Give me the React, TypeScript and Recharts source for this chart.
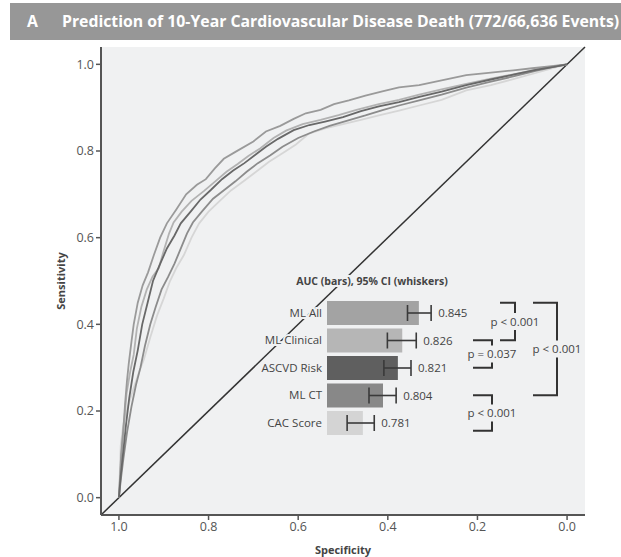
import {
  LineChart,
  Line,
  XAxis,
  YAxis,
  CartesianGrid,
  ReferenceLine,
  BarChart,
  Bar,
  Cell,
  ErrorBar,
  LabelList,
} from 'recharts';

// ROC curves, [specificity, sensitivity]
const ML_ALL_ROC = [
  [1, 0], [0.998, 0.04], [0.995, 0.1], [0.99, 0.16], [0.986, 0.22], [0.982, 0.27],
  [0.978, 0.31], [0.972, 0.36], [0.967, 0.4], [0.958, 0.45], [0.947, 0.49], [0.935, 0.52],
  [0.922, 0.56], [0.908, 0.6], [0.893, 0.633], [0.872, 0.665], [0.85, 0.7], [0.826, 0.722],
  [0.806, 0.735], [0.786, 0.76], [0.766, 0.782], [0.74, 0.798], [0.7, 0.822], [0.672, 0.845],
  [0.64, 0.858], [0.61, 0.874], [0.583, 0.887], [0.55, 0.895], [0.52, 0.908], [0.487, 0.917],
  [0.45, 0.928], [0.41, 0.938], [0.375, 0.947], [0.33, 0.952], [0.28, 0.963], [0.225, 0.975],
  [0.17, 0.981], [0.12, 0.986], [0.078, 0.991], [0.04, 0.995], [0, 1],
];
const ML_CLINICAL_ROC = [
  [1, 0], [0.997, 0.05], [0.993, 0.12], [0.988, 0.18], [0.983, 0.24], [0.975, 0.29],
  [0.967, 0.33], [0.96, 0.39], [0.95, 0.44], [0.938, 0.48], [0.925, 0.51], [0.911, 0.53],
  [0.9, 0.57], [0.888, 0.61], [0.878, 0.635], [0.86, 0.66], [0.838, 0.685], [0.81, 0.708],
  [0.785, 0.73], [0.76, 0.752], [0.735, 0.77], [0.712, 0.788], [0.685, 0.806], [0.655, 0.83],
  [0.627, 0.847], [0.59, 0.862], [0.55, 0.872], [0.51, 0.883], [0.47, 0.895], [0.42, 0.908],
  [0.375, 0.918], [0.33, 0.93], [0.28, 0.942], [0.225, 0.955], [0.17, 0.967], [0.12, 0.977],
  [0.07, 0.988], [0.03, 0.995], [0, 1],
];
const ASCVD_ROC = [
  [1, 0], [0.996, 0.05], [0.99, 0.11], [0.984, 0.17], [0.977, 0.23], [0.968, 0.29],
  [0.958, 0.34], [0.948, 0.4], [0.936, 0.45], [0.924, 0.5], [0.91, 0.535], [0.893, 0.575],
  [0.876, 0.605], [0.862, 0.633], [0.84, 0.66], [0.818, 0.688], [0.795, 0.71], [0.77, 0.735],
  [0.745, 0.755], [0.72, 0.772], [0.697, 0.79], [0.672, 0.81], [0.645, 0.828], [0.61, 0.848],
  [0.575, 0.86], [0.54, 0.868], [0.5, 0.878], [0.46, 0.892], [0.42, 0.903], [0.375, 0.913],
  [0.33, 0.925], [0.28, 0.937], [0.225, 0.952], [0.17, 0.965], [0.12, 0.976], [0.07, 0.987],
  [0.03, 0.994], [0, 1],
];
const ML_CT_ROC = [
  [1, 0], [0.996, 0.04], [0.99, 0.09], [0.982, 0.15], [0.972, 0.21], [0.962, 0.26],
  [0.952, 0.3], [0.942, 0.35], [0.93, 0.4], [0.918, 0.44], [0.905, 0.48], [0.89, 0.51],
  [0.876, 0.54], [0.86, 0.58], [0.848, 0.61], [0.835, 0.635], [0.815, 0.66], [0.79, 0.69],
  [0.765, 0.71], [0.74, 0.73], [0.715, 0.752], [0.69, 0.772], [0.662, 0.79], [0.635, 0.81],
  [0.6, 0.83], [0.565, 0.845], [0.53, 0.858], [0.49, 0.87], [0.45, 0.882], [0.41, 0.895],
  [0.375, 0.905], [0.33, 0.917], [0.28, 0.93], [0.225, 0.946], [0.17, 0.96], [0.12, 0.972],
  [0.07, 0.985], [0.03, 0.994], [0, 1],
];
const CAC_ROC = [
  [1, 0], [0.998, 0.06], [0.996, 0.12], [0.99, 0.17], [0.98, 0.21], [0.968, 0.25],
  [0.955, 0.29], [0.944, 0.32], [0.93, 0.37], [0.915, 0.42], [0.9, 0.46], [0.886, 0.5],
  [0.872, 0.53], [0.855, 0.56], [0.838, 0.6], [0.821, 0.633], [0.8, 0.66], [0.775, 0.685],
  [0.75, 0.709], [0.722, 0.73], [0.694, 0.752], [0.665, 0.775], [0.635, 0.795], [0.605, 0.815],
  [0.576, 0.84], [0.54, 0.852], [0.5, 0.862], [0.46, 0.872], [0.42, 0.882], [0.375, 0.893],
  [0.33, 0.905], [0.28, 0.918], [0.225, 0.94], [0.17, 0.952], [0.12, 0.966], [0.07, 0.98],
  [0.03, 0.992], [0, 1],
];

const AXIS_TICKS = [1.0, 0.8, 0.6, 0.4, 0.2, 0.0];

// inset: AUC bars with 95% CI
const MODELS = ['ML All', 'ML Clinical', 'ASCVD Risk', 'ML CT', 'CAC Score'];
const AUC = [0.845, 0.826, 0.821, 0.804, 0.781];
const CI_LOW = [0.832, 0.809, 0.805, 0.788, 0.763];
const CI_HIGH = [0.859, 0.842, 0.836, 0.819, 0.794];
const COLORS = ['#a3a3a3', '#b6b6b6', '#5f5f5f', '#888888', '#d4d4d4'];
const AUC_MIN = 0.74;
const AUC_MAX = 0.88;

// pairwise comparisons [row a, row b, label]
const COMPARISONS: [number, number, string][] = [
  [0, 1, 'p < 0.001'],
  [1, 2, 'p = 0.037'],
  [0, 3, 'p < 0.001'],
  [3, 4, 'p < 0.001'],
];

const toPoints = (roc: number[][]) => roc.map(([spec, sens]) => ({ spec, sens }));

const CURVES = [
  { name: 'CAC Score', data: toPoints(CAC_ROC), color: '#d6d6d6' },
  { name: 'ML Clinical', data: toPoints(ML_CLINICAL_ROC), color: '#b2b2b2' },
  { name: 'ML CT', data: toPoints(ML_CT_ROC), color: '#8c8c8c' },
  { name: 'ML All', data: toPoints(ML_ALL_ROC), color: '#9a9a9a' },
  { name: 'ASCVD Risk', data: toPoints(ASCVD_ROC), color: '#686868' },
];

const barData = MODELS.map((name, i) => ({
  name,
  auc: AUC[i],
  err: [AUC[i] - CI_LOW[i], CI_HIGH[i] - AUC[i]],
}));

const FONT = '"Open Sans", sans-serif';
const PLOT_BG = '#f0f1f2';
const AXIS = '#555';

// inset geometry
const INSET_LEFT = 200;
const INSET_TOP = 290;
const INSET_W = 340;
const INSET_H = 150;
const INSET_MARGIN = { top: 9, right: 90.5, bottom: 3.5, left: 0 };
const BAND = (INSET_H - INSET_MARGIN.top - INSET_MARGIN.bottom) / MODELS.length;
const rowY = (i: number) => INSET_TOP + INSET_MARGIN.top + BAND * (i + 0.5);

const BRACKET_X = [515, 492, 557, 492];
const BRACKET_HOOK = [15, 19, 24, 19];

function ValueLabel(props: any) {
  const { x, y, width, height, value, index } = props;
  const scale = width / (value - AUC_MIN);
  const lx = x + width + (CI_HIGH[index] - value) * scale + 7;
  return (
    <text x={lx} y={y + height / 2} dy="0.35em" fontSize={11.5} fill="#444" fontFamily={FONT}>
      {value.toFixed(3)}
    </text>
  );
}

function Brackets() {
  return (
    <svg
      width={621}
      height={557}
      style={{ position: 'absolute', left: 0, top: 0, pointerEvents: 'none' }}
    >
      <text
        x={372}
        y={281}
        dy="0.35em"
        textAnchor="middle"
        fontSize={10.5}
        fontWeight={700}
        fill="#444"
        fontFamily={FONT}
        style={{ paintOrder: 'stroke', stroke: PLOT_BG, strokeWidth: 4 }}
      >
        AUC (bars), 95% CI (whiskers)
      </text>
      {COMPARISONS.map(([a, b, label], k) => {
        const y1 = a === 0 ? rowY(a) - 10 : rowY(a);
        const y2 = b === MODELS.length - 1 ? rowY(b) + 8 : rowY(b);
        const mid = (y1 + y2) / 2;
        const x = BRACKET_X[k];
        const h = BRACKET_HOOK[k];
        return (
          <g key={k} stroke="#333" strokeWidth={2} fill="none">
            <polyline points={`${x - h},${y1} ${x},${y1} ${x},${mid - 8.5}`} />
            <polyline points={`${x},${mid + 8.5} ${x},${y2} ${x - h},${y2}`} />
            <text
              x={x}
              y={mid}
              dy="0.35em"
              textAnchor="middle"
              fontSize={11.5}
              fill="#444"
              stroke="none"
              fontFamily={FONT}
            >
              {label}
            </text>
          </g>
        );
      })}
    </svg>
  );
}

export default function App() {
  return (
    <div
      style={{
        position: 'absolute',
        left: 0,
        top: 0,
        width: 621,
        height: 557,
        background: '#fff',
        overflow: 'hidden',
        fontFamily: FONT,
      }}
    >
      <div
        style={{
          position: 'absolute',
          left: 10,
          top: 3,
          width: 611,
          height: 37,
          background: '#979797',
          color: '#fff',
          fontWeight: 700,
          fontSize: 15.8,
          lineHeight: '37px',
          whiteSpace: 'nowrap',
          overflow: 'hidden',
        }}
      >
        <span style={{ position: 'absolute', left: 17 }}>A</span>
        <span style={{ position: 'absolute', left: 52 }}>
          Prediction of 10-Year Cardiovascular Disease Death (772/66,636 Events)
        </span>
      </div>

      <div style={{ position: 'absolute', left: 0, top: 0 }}>
        <LineChart width={621} height={557} margin={{ top: 47, right: 36, bottom: 0, left: 56 }}>
          <CartesianGrid horizontal={false} vertical={false} fill={PLOT_BG} />
          <XAxis
            type="number"
            dataKey="spec"
            domain={[-0.04, 1.04]}
            reversed
            ticks={AXIS_TICKS}
            tickFormatter={(v: number) => v.toFixed(1)}
            allowDataOverflow
            height={42}
            axisLine={{ stroke: AXIS, strokeWidth: 2 }}
            tickLine={{ stroke: AXIS, strokeWidth: 1.5 }}
            tickSize={5}
            tick={{ fill: '#555', fontSize: 12.5, fontFamily: FONT }}
            label={{
              value: 'Specificity',
              position: 'insideBottom',
              offset: 3,
              fill: '#444',
              fontSize: 11,
              fontWeight: 700,
              fontFamily: FONT,
            }}
          />
          <XAxis
            xAxisId="top"
            orientation="top"
            type="number"
            domain={[-0.04, 1.04]}
            height={0}
            tick={false}
            tickLine={false}
            axisLine={{ stroke: AXIS, strokeWidth: 2 }}
          />
          <YAxis
            type="number"
            domain={[-0.04, 1.04]}
            ticks={AXIS_TICKS}
            tickFormatter={(v: number) => v.toFixed(1)}
            allowDataOverflow
            width={45}
            axisLine={{ stroke: AXIS, strokeWidth: 2 }}
            tickLine={{ stroke: AXIS, strokeWidth: 1.5 }}
            tickSize={5}
            tick={{ fill: '#555', fontSize: 12.5, fontFamily: FONT }}
            label={{
              value: 'Sensitivity',
              angle: -90,
              position: 'insideLeft',
              fill: '#444',
              fontSize: 11,
              fontWeight: 700,
              fontFamily: FONT,
              style: { textAnchor: 'middle' },
            }}
          />
          <YAxis
            yAxisId="right"
            orientation="right"
            type="number"
            domain={[-0.04, 1.04]}
            width={0}
            tick={false}
            tickLine={false}
            axisLine={{ stroke: AXIS, strokeWidth: 2 }}
          />
          <ReferenceLine
            segment={[
              { x: 1.04, y: -0.04 },
              { x: -0.04, y: 1.04 },
            ]}
            stroke="#333"
            strokeWidth={1.5}
          />
          {CURVES.map((c) => (
            <Line
              key={c.name}
              data={c.data}
              dataKey="sens"
              type="linear"
              stroke={c.color}
              strokeWidth={1.8}
              dot={false}
              isAnimationActive={false}
            />
          ))}
        </LineChart>
      </div>

      <div style={{ position: 'absolute', left: INSET_LEFT, top: INSET_TOP }}>
        <BarChart
          width={INSET_W}
          height={INSET_H}
          layout="vertical"
          data={barData}
          margin={INSET_MARGIN}
        >
          <XAxis type="number" domain={[AUC_MIN, AUC_MAX]} hide allowDataOverflow />
          <YAxis
            type="category"
            dataKey="name"
            width={127}
            axisLine={false}
            tickLine={false}
            tickSize={3}
            tickMargin={2}
            tick={{
              fill: '#444',
              fontSize: 11.5,
              fontFamily: FONT,
              style: { paintOrder: 'stroke', stroke: PLOT_BG, strokeWidth: 4 },
            }}
          />
          <Bar dataKey="auc" barSize={24} isAnimationActive={false}>
            {barData.map((d, i) => (
              <Cell key={d.name} fill={COLORS[i]} />
            ))}
            <ErrorBar
              dataKey="err"
              direction="x"
              width={8}
              stroke="#3a3a3a"
              strokeWidth={1.6}
              isAnimationActive={false}
            />
            <LabelList dataKey="auc" content={ValueLabel} />
          </Bar>
        </BarChart>
      </div>

      <Brackets />
    </div>
  );
}
